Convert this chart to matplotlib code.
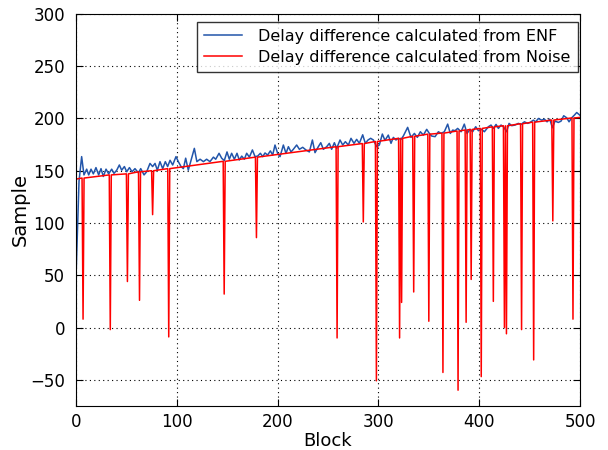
import matplotlib

matplotlib.use("Agg")

import matplotlib.pyplot as plt

# delay difference from ENF (read at peaks / troughs)
enf_block = [
    0, 3, 5.6, 7.9, 10.6, 12.6, 14.9, 17.2, 19.8, 22.5, 24.8, 27.1, 29.8, 32.4,
    35.4, 37.7, 40.4, 43, 45.3, 48, 50.3, 53, 55.6, 58.5, 61.9, 64.2, 67.5,
    70.1, 73.4, 76, 78.4, 80.7, 83.3, 86, 88.6, 90.9, 93.3, 95.9, 99.2, 101.5,
    104.2, 106.5, 108.8, 111.4, 114.7, 117.4, 119.9, 123.1, 126.4, 129.6,
    132.9, 136.3, 138.6, 141.9, 144.5, 147.1, 149.8, 152.1, 154.4, 157.1,
    159.7, 162, 164.4, 167, 169.3, 172, 175, 177.6, 180.2, 182.9, 185.2,
    187.5, 190.1, 192.8, 195.1, 197.4, 200, 202.4, 205.7, 208.3, 210.7,
    213.3, 215.6, 218.9, 221.6, 224.9, 228.2, 231.5, 234.5, 237.1, 240.4,
    242.8, 245.4, 248.7, 251.3, 253.6, 256.3, 258.6, 261.9, 264.6, 267.2,
    270.2, 272.8, 275.8, 278.4, 281.1, 284.4, 287, 289.7, 292.3, 295, 298.3,
    300.9, 303.9, 306.5, 309.8, 312.5, 314.8, 317.4, 319.7, 322.4, 324.7,
    329, 332.3, 335.7, 338.6, 341.6, 344.6, 347.9, 350.5, 352.8, 356.2,
    359.5, 362.1, 365.4, 368.7, 371.3, 373.7, 376, 378.6, 382, 385.2, 387.9,
    390.9, 393.5, 396.5, 399.2, 402.5, 405.1, 409.1, 411.7, 414, 416.7, 419,
    421.6, 424, 427.2, 429.6, 432.2, 435.5, 438.8, 441.5, 444.8, 448.1,
    450.4, 453.7, 456, 458.7, 462, 464.6, 467.3, 469.9, 472.6, 475.2, 478.5,
    481.2, 483.8, 486.8, 489.1, 491.7, 494.4, 496.7, 500,
]
enf_value = [
    48, 140, 163.5, 146, 151.5, 146, 151.5, 147, 153, 146, 152, 144.5, 151.5,
    147, 151.5, 147.5, 150.5, 155.5, 150.5, 154, 149, 153, 149, 152, 148,
    152, 146, 149, 157, 154, 157, 150.5, 158.7, 152, 158.7, 154, 160, 155.5,
    163.5, 158.7, 154, 152, 162, 150.5, 162, 171.4, 158.7, 161, 158.7, 161,
    158.7, 163, 161, 166.7, 162, 159.7, 168, 161, 166.7, 161, 166.7, 160.3,
    164, 161, 166.7, 163, 169.9, 163.5, 164, 166.7, 163.5, 167, 165, 169,
    165, 174.6, 166.7, 163.5, 174.6, 166.6, 173, 168, 170.5, 174.6, 170.5,
    172.4, 169.8, 168, 179.4, 167.3, 173, 176.8, 170.5, 173, 176.2, 170.5,
    176.8, 171.4, 179.4, 174.6, 177.8, 174.6, 181, 176.2, 180, 176.2, 184.4,
    176.2, 179.4, 181, 179.4, 173, 174.6, 185.1, 179, 184.1, 176.2, 181.9,
    179.4, 181, 180, 183.2, 191.5, 181.9, 185.7, 181.9, 187.3, 184.1, 189.6,
    185.7, 183.2, 182.6, 187.3, 185.7, 187.3, 194.6, 185.7, 188.9, 188.3,
    190.5, 187.3, 194.6, 185.7, 189.6, 187.3, 192.1, 188.3, 189.6, 187.3,
    192.1, 193.7, 190.5, 194.3, 190.5, 193.7, 192.1, 187.3, 195.3, 193.1,
    193.7, 195.3, 194.3, 196.8, 195.3, 196.2, 198.4, 196.8, 200, 198.4,
    199.4, 196.8, 199.4, 191.1, 197.5, 196.2, 197.5, 202.6, 200.6, 196.8,
    200.6, 203.2, 205.7, 203,
]

# delay difference from noise: spikes and the baseline next to them
spike_block = [7, 34, 51, 63, 76, 92, 147, 179, 259, 285, 298, 321, 323, 335,
               350, 364, 379, 387, 392, 402, 414, 425, 427, 442, 454, 473, 493]
spike_value = [8, -2, 44, 26, 108, -9, 32, 86, -10, 101, -51, -10, 24, 34,
               6, -43, -60, 5, 46, -47, 25, 0, -6, -2, -31, 102, 8]
spike_base = [143, 146, 147, 149, 150, 152, 159, 163, 173, 176, 178, 181, 181,
              183, 185, 186, 188, 189, 189.5, 190.5, 192, 193, 193, 195, 196.5,
              198.5, 200.5]
noise_start = (0, 142)
noise_end = (500, 201)

noise_block = [noise_start[0]]
noise_value = [noise_start[1]]
for b, v, base in zip(spike_block, spike_value, spike_base):
    noise_block += [b - 1, b, b + 1]
    noise_value += [base, v, base]
noise_block.append(noise_end[0])
noise_value.append(noise_end[1])

plt.rcParams.update({
    "font.family": "DejaVu Sans",
    "xtick.direction": "in",
    "ytick.direction": "in",
    "xtick.top": True,
    "ytick.right": True,
    "xtick.major.size": 5,
    "ytick.major.size": 5,
})

fig = plt.figure(figsize=(6.08, 4.5), dpi=100)
ax = fig.add_axes([0.125, 0.098, 0.829, 0.871])

ax.plot(enf_block, enf_value, color="#2255aa", lw=1.1,
        label="Delay difference calculated from ENF")
ax.plot(noise_block, noise_value, color="red", lw=1.1,
        label="Delay difference calculated from Noise")

ax.set_xlim(0, 500)
ax.set_ylim(-75, 300)
ax.set_xticks(range(0, 501, 100))
ax.set_yticks(range(-50, 301, 50))
ax.tick_params(labelsize=12)
ax.tick_params(axis="x", pad=5)
ax.tick_params(axis="y", pad=8)
ax.grid(True, color="black", linestyle=(0, (1, 3)), linewidth=0.8)
ax.set_xlabel("Block", fontsize=13, labelpad=1)
ax.set_ylabel("Sample", fontsize=14, labelpad=0)

leg = ax.legend(loc="upper right", bbox_to_anchor=(0.996, 0.98),
                borderaxespad=0, fontsize=11.5, fancybox=False,
                handlelength=2.4, handletextpad=1.0,
                borderpad=0.45, labelspacing=0.35)
leg.get_frame().set_edgecolor("black")

fig.savefig("out.png", dpi=100)
plt.close(fig)
